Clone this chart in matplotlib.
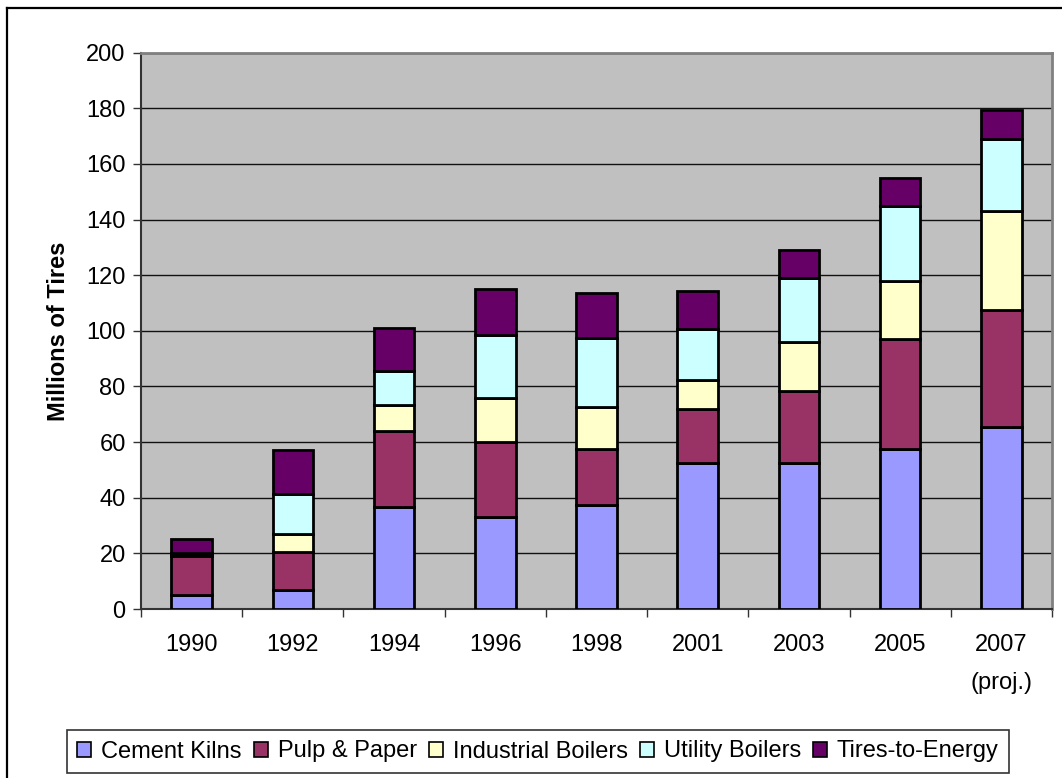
import numpy as np
import matplotlib
matplotlib.use('Agg')
import matplotlib.pyplot as plt
from matplotlib.lines import Line2D

plt.rcParams['font.family'] = ['Liberation Sans', 'DejaVu Sans']

years = ['1990', '1992', '1994', '1996', '1998', '2001', '2003', '2005', '2007\n(proj.)']
cement_kilns = [5, 7, 36.5, 33, 37.5, 52.5, 52.5, 57.5, 65.5]
pulp_paper = [14, 13.5, 27.5, 27, 20, 19.5, 26, 39.5, 42]
industrial_boilers = [0.5, 6.5, 9.5, 16, 15, 10.5, 17.5, 21, 35.5]
utility_boilers = [0.5, 14.5, 12, 22.5, 25, 18, 23, 27, 26]
tires_to_energy = [5, 15.5, 15.5, 16.5, 16, 14, 10, 10, 10.5]

series = [
    ('Cement Kilns', cement_kilns, '#9999FF'),
    ('Pulp & Paper', pulp_paper, '#993366'),
    ('Industrial Boilers', industrial_boilers, '#FFFFCC'),
    ('Utility Boilers', utility_boilers, '#CCFFFF'),
    ('Tires-to-Energy', tires_to_energy, '#660066'),
]

fig = plt.figure(figsize=(10.62, 7.78), dpi=100)
ax = fig.add_axes([141/1062, 1 - 609/778, 911/1062, 556.3/778])
ax.set_facecolor('#C0C0C0')

x = np.arange(len(years))
bottom = np.zeros(len(years))
for name, vals, col in series:
    vals = np.array(vals)
    ax.bar(x, vals, 0.4, bottom=bottom, color=col, edgecolor='black',
           linewidth=2, label=name, zorder=3)
    bottom += vals

ax.set_xlim(-0.5, len(years) - 0.5)
ax.set_ylim(0, 200)
ax.set_yticks(np.arange(0, 201, 20))
ax.yaxis.grid(True, color='#111111', linewidth=1, zorder=1)
ax.set_axisbelow(True)

# year labels at centres, tick marks between categories
ax.set_xticks(x)
ax.set_xticklabels(years, fontsize=17, linespacing=1.95, va='top')
ax.set_xticks(np.arange(-0.5, len(years)), minor=True)
ax.tick_params(axis='x', which='major', length=0, pad=18)
ax.tick_params(axis='x', which='minor', length=6, width=1, color='#333333')
ax.tick_params(axis='y', length=6, width=1, color='#333333', labelsize=17, pad=5)

for s in ['top', 'right']:
    ax.spines[s].set_color('#808080')
    ax.spines[s].set_linewidth(2)
for s in ['left', 'bottom']:
    ax.spines[s].set_color('#333333')
    ax.spines[s].set_linewidth(1.5)

ax.set_ylabel('Millions of Tires', fontsize=17, fontweight='bold', labelpad=12)

leg = ax.legend(loc='center', bbox_to_anchor=(538/1062, (778 - 751.5)/778),
                bbox_transform=fig.transFigure, ncol=5, fontsize=17,
                frameon=True, fancybox=False, edgecolor='black',
                handlelength=0.6, handleheight=0.6, handletextpad=0.42,
                columnspacing=0.5, borderpad=0.45, borderaxespad=0)
leg.get_frame().set_linewidth(1.2)
for h in leg.legend_handles:
    h.set_linewidth(1.2)

# chart area border (only top and left visible in the picture)
fig.add_artist(Line2D([7/1062, 1.01], [1 - 8/778, 1 - 8/778], color='black', linewidth=1.6))
fig.add_artist(Line2D([7/1062, 7/1062], [-0.01, 1 - 8/778], color='black', linewidth=1.6))

fig.savefig('out.png', dpi=100)
